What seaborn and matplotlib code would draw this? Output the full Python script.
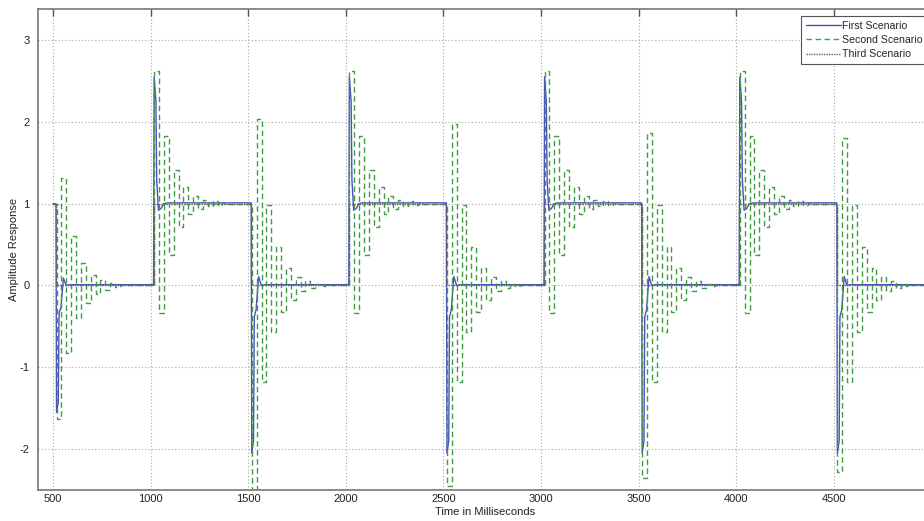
import matplotlib
matplotlib.use('Agg')
import pandas as pd
import seaborn as sns
import matplotlib.pyplot as plt

sns.set_style('white')
plt.rcParams['font.family'] = ['Liberation Sans', 'DejaVu Sans']
plt.rcParams['axes.unicode_minus'] = False

# square-wave switching instants (ms) and level after each switch
step_times = [515, 1015, 1515, 2015, 2515, 3015, 3515, 4015, 4515]
step_levels = [0, 1, 0, 1, 0, 1, 0, 1, 0]
t_start, t_end = 500, 5000

# first scenario (solid blue): response points after a switch, offsets in ms
blue_dt = [0, 3, 12, 16, 25, 38, 52, 70]
blue_first = [1.0, -1.55, -1.42, -0.33, -0.28, 0.09, 0.0, 0.01]
blue_up = [0.0, 2.55, 2.25, 1.30, 0.92, 0.94, 1.0, 1.01]
blue_down = [1.0, -2.05, -1.90, -0.38, -0.30, 0.11, 0.0, 0.01]

# second scenario (dashed green): sample values held 25 ms each
green_hold = 25
green_delay = 3
green_first = [-1.63, 1.32, -0.83, 0.60, -0.40, 0.28, -0.22, 0.13, -0.10, 0.07,
               -0.05, 0.03, -0.02, 0.01, 0.0]
green_up = [2.62, -0.34, 1.83, 0.37, 1.41, 0.71, 1.20, 0.87, 1.10, 0.93,
            1.05, 0.97, 1.03, 0.98, 1.01, 1.0]
green_down_trough = [-2.62, -2.45, -2.35, -2.28]
green_down_peak = [2.04, 1.97, 1.87, 1.80]
green_down_tail = [-1.18, 0.98, -0.57, 0.47, -0.33, 0.21, -0.18, 0.10, -0.07,
                   0.05, -0.03, 0.02, -0.01, 0.0]

# first scenario series
bt, bv = [t_start], [1.0]
for i, (st, lvl) in enumerate(zip(step_times, step_levels)):
    if i == 0:
        vals = blue_first
    elif lvl == 1:
        vals = blue_up
    else:
        vals = blue_down
    bt.append(st)
    bv.append(bv[-1])
    for dt, val in zip(blue_dt, vals):
        bt.append(st + dt)
        bv.append(val)
bt.append(t_end)
bv.append(bv[-1])

# second scenario series
gt, gv = [t_start], [1.0]
k_down = 0
for i, (st, lvl) in enumerate(zip(step_times, step_levels)):
    if i == 0:
        vals = green_first
    elif lvl == 1:
        vals = green_up
    else:
        vals = [green_down_trough[k_down], green_down_peak[k_down]] + green_down_tail
        k_down += 1
    for j, val in enumerate(vals):
        gt.append(st + green_delay + j * green_hold)
        gv.append(val)
gt.append(t_end)
gv.append(gv[-1])

# third scenario series
tt = [t_start] + step_times + [t_end]
tv = [1] + step_levels + [0]

df1 = pd.DataFrame({'t': bt, 'y': bv})
df2 = pd.DataFrame({'t': gt, 'y': gv})
df3 = pd.DataFrame({'t': tt, 'y': tv})

fig = plt.figure(figsize=(9.24, 5.21), dpi=100)
ax = fig.add_axes([38 / 924, 1 - 490 / 521, (931.5 - 38) / 924, (490 - 9) / 521])

sns.lineplot(data=df1, x='t', y='y', ax=ax, estimator=None, sort=False,
             color='#4b50c0', linewidth=1.0, label='First Scenario')
sns.lineplot(data=df2, x='t', y='y', ax=ax, estimator=None, sort=False,
             color='#3f9c3f', linewidth=1.0, drawstyle='steps-post',
             dashes=False, label='Second Scenario')
ax.lines[-1].set_linestyle((0, (4, 2.5)))
sns.lineplot(data=df3, x='t', y='y', ax=ax, estimator=None, sort=False,
             color='#5f5f5f', linewidth=1.0, drawstyle='steps-post',
             label='Third Scenario')
ax.lines[-1].set_linestyle((0, (1, 0.8)))

ax.set_xlim(423, 5000)
ax.set_ylim(-2.5, 3.38)
ax.set_xticks([500, 1000, 1500, 2000, 2500, 3000, 3500, 4000, 4500])
ax.set_yticks([-2, -1, 0, 1, 2, 3])
ax.grid(True, linestyle=(0, (1, 2)), color='#a8a8a8', linewidth=0.8)
ax.tick_params(direction='in', top=True, right=True, length=5, width=1,
               color='#555555', labelcolor='#222222', labelsize=8)
ax.tick_params(axis='y', pad=6)
ax.tick_params(axis='x', pad=3)
for sp in ax.spines.values():
    sp.set_color('#777777')
    sp.set_linewidth(1.2)

ax.set_xlabel('Time in Milliseconds', fontsize=8, color='#222222', labelpad=2)
ax.set_ylabel('Amplitude Response', fontsize=8, color='#222222')
ax.yaxis.set_label_coords(-0.021, 0.5)

leg = ax.legend(loc='upper left', bbox_to_anchor=(801 / 924, 1 - 16 / 521),
                bbox_transform=fig.transFigure, borderaxespad=0, fontsize=7.6,
                handlelength=3.3, handletextpad=0.15, labelspacing=0.4,
                borderpad=0.45, fancybox=False, framealpha=1)
leg.get_frame().set_edgecolor('#555555')
leg.get_frame().set_linewidth(0.8)

plt.savefig('out.png', dpi=100)
plt.close()
